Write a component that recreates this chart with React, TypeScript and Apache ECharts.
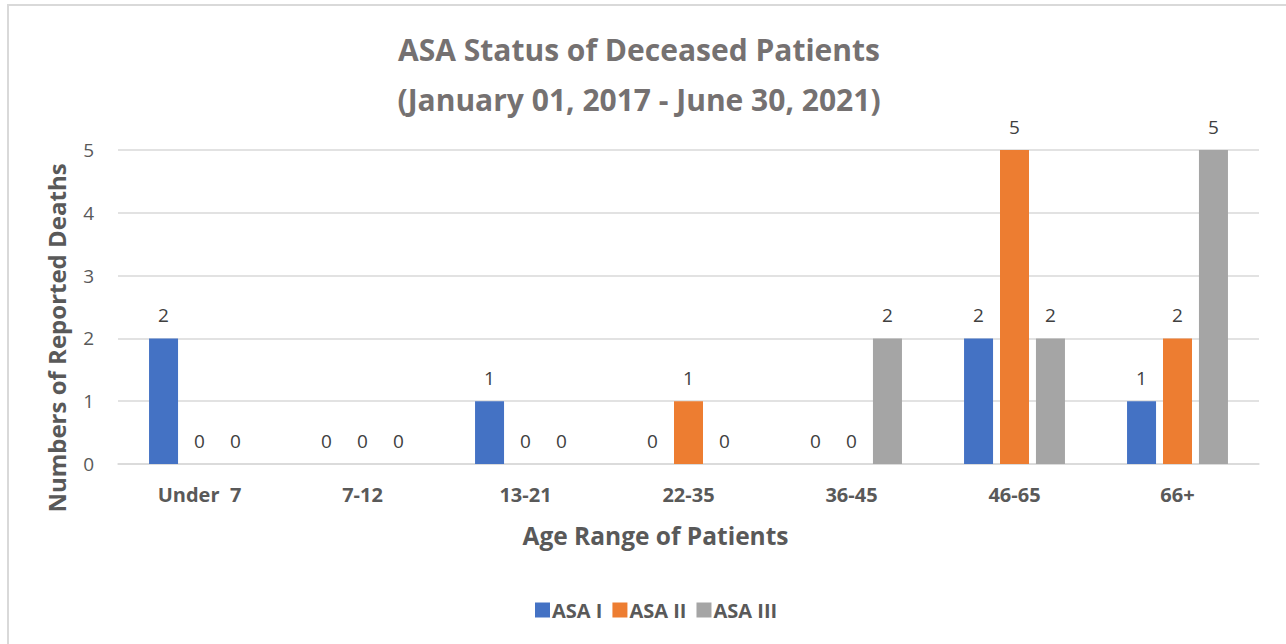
import React, { useEffect, useRef } from "react";
import * as echarts from "echarts";

const categories = ["Under  7", "7-12", "13-21", "22-35", "36-45", "46-65", "66+"];
const asaI = [2, 0, 1, 0, 0, 2, 1];
const asaII = [0, 0, 0, 1, 0, 5, 2];
const asaIII = [0, 0, 0, 0, 2, 2, 5];
const seriesNames = ["ASA I", "ASA II", "ASA III"];
const colors = ["#4472C4", "#ED7D31", "#A5A5A5"];

const FONT = "'Open Sans', 'Noto Sans', sans-serif";

export default function App() {
  const ref = useRef<HTMLDivElement>(null);
  useEffect(() => {
    if (!ref.current) return;
    const chart = echarts.init(ref.current, null, { renderer: "svg" });
    const data = [asaI, asaII, asaIII];
    chart.setOption({
      animation: false,
      backgroundColor: "#ffffff",
      textStyle: { fontFamily: FONT },
      title: {
        text: "ASA Status of Deceased Patients\n(January 01, 2017 - June 30, 2021)",
        left: 639,
        textAlign: "center",
        top: 24,
        padding: 0,
        textStyle: {
          fontFamily: FONT,
          fontSize: 30,
          fontWeight: "bold",
          color: "#757171",
          lineHeight: 50,
        },
      },
      graphic: [
        {
          type: "rect",
          shape: { x: 8, y: 5, width: 1400, height: 800 },
          style: { fill: "none", stroke: "#d9d9d9", lineWidth: 2 },
          silent: true,
        },
      ],
      legend: {
        data: seriesNames,
        left: 530,
        top: 595,
        itemWidth: 15,
        itemHeight: 15,
        itemGap: 10,
        icon: "rect",
        textStyle: { fontFamily: FONT, fontSize: 20, fontWeight: "bold", color: "#595959", padding: [0, 0, 0, -3] },
      },
      grid: { left: 118, right: 27, top: 150, bottom: 180, containLabel: false },
      xAxis: {
        type: "category",
        data: categories,
        axisLine: { show: true, lineStyle: { color: "#d9d9d9", width: 1.5 } },
        axisTick: { show: false },
        axisLabel: {
          margin: 20,
          fontFamily: FONT,
          fontSize: 20,
          fontWeight: "bold",
          color: "#595959",
        },
        name: "Age Range of Patients",
        nameLocation: "middle",
        nameGap: 59,
        nameTextStyle: {
          fontFamily: FONT,
          fontSize: 24.5,
          fontWeight: "bold",
          color: "#595959",
          padding: [0, 66, 0, 0],
        },
      },
      yAxis: {
        type: "value",
        min: 0,
        max: 5,
        interval: 1,
        axisLine: { show: false },
        axisTick: { show: false },
        splitLine: { lineStyle: { color: "#d9d9d9", width: 1.5 } },
        axisLabel: { margin: 24, fontFamily: FONT, fontSize: 19, color: "#595959" },
        name: "Numbers of Reported Deaths",
        nameLocation: "middle",
        nameGap: 50,
        nameTextStyle: {
          fontFamily: FONT,
          fontSize: 24,
          fontWeight: "bold",
          color: "#595959",
          padding: [0, 62, 0, 0],
        },
      },
      series: seriesNames.map((name, i) => ({
        name,
        type: "bar",
        data: data[i],
        barWidth: 29,
        barGap: "24%",
        itemStyle: { color: colors[i] },
        label: {
          show: true,
          position: "top",
          distance: 14,
          fontFamily: FONT,
          fontSize: 19,
          color: "#404040",
        },
      })),
    });
    return () => chart.dispose();
  }, []);
  return (
    <div
      ref={ref}
      style={{ position: "absolute", left: 0, top: 0, width: 1286, height: 644 }}
    />
  );
}
